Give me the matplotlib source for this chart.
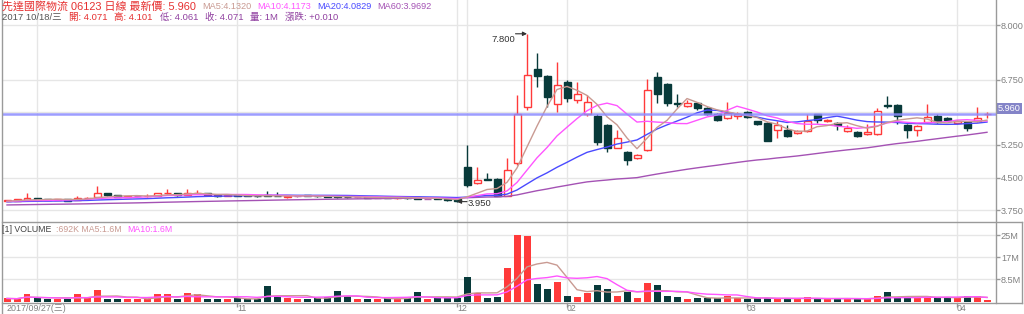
import matplotlib
matplotlib.use('Agg')
import matplotlib.pyplot as plt
import numpy as np
import pandas as pd
from matplotlib.patches import Rectangle
from matplotlib.lines import Line2D

# ---------------- data ----------------
month_start_idx = [0, 3, 23, 45, 46, 56, 74, 95]
tick_idx = [23, 45, 56, 74, 95]
tick_labels = ['11', '12', '02', '03', '04']
first_date_label = '2017/09/27(三)'

opens = [3.96, 3.97, 3.99,
         4.03, 4.01, 3.99, 4.01, 3.99, 4.03, 4.05, 4.14, 4.10, 4.06,
         4.071, 4.07, 4.08, 4.14, 4.14, 4.11, 4.14, 4.14, 4.10, 4.08,
         4.11, 4.10, 4.08, 4.10, 4.09, 4.06, 4.07, 4.10, 4.08, 4.07,
         4.07, 4.06, 4.05, 4.05, 4.04, 4.05, 4.03, 4.05, 4.05, 4.02,
         4.03, 4.02,
         4.00,
         4.74, 4.38, 4.46, 4.48, 4.09, 4.83, 6.12, 7.00, 6.83, 6.18,
         6.70, 6.28, 5.95, 5.91, 5.70, 5.19, 5.09, 4.94, 5.14, 6.81,
         6.64, 6.21, 6.14, 6.21, 6.10, 5.97, 5.86, 5.91,
         6.00, 5.79, 5.75, 5.60, 5.60, 5.52, 5.57, 5.95, 5.79, 5.76,
         5.56, 5.55, 5.49, 5.49, 6.17, 6.16, 5.70, 5.59, 5.78, 5.91,
         5.87,
         5.75, 5.78, 5.79, 5.95]
highs = [3.99, 4.01, 4.14,
         4.04, 4.02, 4.02, 4.02, 4.09, 4.05, 4.31, 4.15, 4.11, 4.08,
         4.101, 4.12, 4.15, 4.25, 4.15, 4.25, 4.22, 4.15, 4.11, 4.11,
         4.12, 4.11, 4.09, 4.19, 4.16, 4.08, 4.08, 4.11, 4.09, 4.08,
         4.08, 4.07, 4.06, 4.06, 4.05, 4.06, 4.06, 4.06, 4.06, 4.03,
         4.04, 4.03,
         4.01,
         5.24, 4.74, 4.60, 4.50, 4.94, 6.39, 7.80, 7.35, 6.85, 7.16,
         6.74, 6.70, 6.39, 5.95, 5.72, 5.60, 5.10, 5.05, 6.77, 6.93,
         6.66, 6.43, 6.28, 6.24, 6.12, 5.98, 6.24, 6.00,
         6.02, 5.80, 5.77, 5.79, 5.70, 5.60, 5.97, 5.97, 5.85, 5.78,
         5.70, 5.56, 5.72, 6.09, 6.37, 6.20, 5.72, 5.70, 6.20, 5.97,
         5.88,
         5.82, 5.80, 6.12, 6.00]
lows = [3.955, 3.96, 3.98,
        3.98, 3.98, 3.98, 3.96, 3.98, 4.02, 4.04, 4.09, 4.05, 4.05,
        4.061, 4.06, 4.07, 4.12, 4.09, 4.10, 4.12, 4.09, 4.06, 4.07,
        4.07, 4.07, 4.06, 4.08, 4.08, 4.04, 4.06, 4.07, 4.06, 4.05,
        4.04, 4.04, 4.04, 4.03, 4.03, 4.03, 4.02, 4.02, 4.01, 4.01,
        4.00, 3.97,
        3.95,
        4.28, 4.36, 4.44, 4.08, 4.07, 4.80, 6.05, 6.58, 6.12, 6.00,
        6.24, 6.22, 5.92, 5.24, 5.09, 5.17, 4.78, 4.93, 5.12, 6.21,
        6.14, 6.12, 6.12, 6.05, 5.93, 5.80, 5.85, 5.85,
        5.86, 5.70, 5.33, 5.42, 5.44, 5.50, 5.55, 5.76, 5.78, 5.60,
        5.55, 5.44, 5.47, 5.48, 6.10, 5.74, 5.42, 5.46, 5.76, 5.76,
        5.80,
        5.74, 5.58, 5.77, 5.87]
closes = [3.98, 4.00, 4.04,
          3.99, 3.99, 4.01, 3.97, 4.04, 4.04, 4.14, 4.10, 4.06, 4.07,
          4.071, 4.09, 4.14, 4.15, 4.10, 4.15, 4.15, 4.10, 4.08, 4.10,
          4.08, 4.08, 4.07, 4.09, 4.08, 4.08, 4.07, 4.08, 4.07, 4.06,
          4.05, 4.05, 4.05, 4.04, 4.04, 4.04, 4.05, 4.03, 4.02, 4.02,
          4.01, 3.98,
          3.96,
          4.32, 4.44, 4.44, 4.09, 4.67, 5.97, 6.85, 6.83, 6.34, 6.62,
          6.32, 6.41, 6.24, 5.32, 5.19, 5.40, 4.90, 5.01, 6.52, 6.43,
          6.21, 6.20, 6.21, 6.09, 5.95, 5.83, 5.98, 5.97,
          5.88, 5.74, 5.34, 5.70, 5.45, 5.57, 5.79, 5.83, 5.83, 5.70,
          5.65, 5.45, 5.55, 6.03, 6.14, 5.91, 5.60, 5.68, 5.89, 5.78,
          5.82,
          5.80, 5.65, 5.87, 5.96]
volumes_m = [1.2, 1.0, 3.0,
             1.2, 1.1, 1.0, 0.8, 3.0, 1.2, 4.3, 1.1, 1.1, 1.0,
             1.0, 1.0, 3.0, 3.0, 0.9, 3.2, 3.0, 1.0, 1.0, 0.9,
             1.5, 0.9, 0.8, 6.1, 1.9, 1.5, 1.0, 0.9, 1.3, 1.9,
             4.2, 2.1, 0.9, 0.8, 0.9, 1.3, 1.5, 1.5, 3.6, 0.9,
             1.5, 1.5,
             1.2,
             9.4, 3.2, 1.3, 1.7, 12.8, 25.6, 25.4, 6.9, 4.8, 7.5,
             2.0, 1.6, 3.3, 6.5, 4.8, 2.3, 3.8, 1.3, 7.2, 6.5,
             2.0, 1.7, 1.1, 1.3, 1.3, 1.2, 2.0, 1.2,
             1.0, 1.3, 1.5, 1.0, 1.1, 0.9, 1.6, 1.2, 0.9, 1.1,
             1.0, 1.3, 1.0, 2.0, 3.5, 1.2, 2.0, 1.2, 2.0, 1.5,
             1.3,
             1.5, 2.2, 2.3, 0.692]
# estimated closes of the sessions before the visible window (for moving averages)
hist_close = [3.80, 3.82, 3.81, 3.79, 3.80, 3.83, 3.84, 3.82, 3.81, 3.83,
              3.85, 3.84, 3.82, 3.80, 3.81, 3.83, 3.82, 3.84, 3.86, 3.85,
              3.83, 3.82, 3.84, 3.85, 3.83, 3.81, 3.82, 3.84, 3.86, 3.87,
              3.85, 3.84, 3.86, 3.88, 3.87, 3.85, 3.86, 3.88, 3.89, 3.90,
              3.91, 3.93, 3.92, 3.94, 3.95, 3.93, 3.92, 3.94, 3.96, 3.95,
              3.93, 3.94, 3.96, 3.97, 3.95, 3.94, 3.96, 3.97, 3.95]
price_ticks = [3.75, 4.5, 5.25, 6.0, 6.75, 8.0]
vol_ticks = [8.5, 17, 25.5]
vol_tick_labels = ['8.5M', '17M', '25M']
last_price = 5.960

# ---------------- style ----------------
W, H = 1024, 314
FONT = ['Liberation Sans', 'Noto Sans CJK TC', 'DejaVu Sans']
plt.rcParams['font.family'] = FONT
UP = '#ff3a3a'
DOWN = '#083a3a'
FLAT = '#b060b0'
C_MA5 = '#c99a92'
C_MA10 = '#ff55ff'
C_MA20 = '#4a4aff'
C_MA60 = '#a452b4'
GRID = '#e6e6e6'
AXC = '#9a9a9a'
LBL = '#808080'
RED_T = '#e63030'
PUR_T = '#9040a0'

fig = plt.figure(figsize=(W / 100, H / 100), dpi=100)
fig.patch.set_facecolor('white')


def fx(px):
    return px / W


def fy(py):
    return 1 - py / H


ax = fig.add_axes([fx(2), fy(221.5), fx(996) - fx(2), fy(0) - fy(221.5)])
axv = fig.add_axes([fx(2), fy(303), fx(996) - fx(2), fy(221.5) - fy(303)])

n = len(closes)
x = np.arange(n)
o = np.array(opens); h = np.array(highs); l = np.array(lows); c = np.array(closes)
v = np.array(volumes_m)

all_close = pd.Series(list(hist_close) + list(closes))
k = len(hist_close)
ma5 = all_close.rolling(5).mean().values[k:]
ma10 = all_close.rolling(10).mean().values[k:]
ma20 = all_close.rolling(20).mean().values[k:]
ma60 = all_close.rolling(60, min_periods=1).mean().values[k:]
vs = pd.Series(v)
vma5 = vs.rolling(5, min_periods=1).mean().values
vma10 = vs.rolling(10, min_periods=1).mean().values

XL = (-0.5, 98.9)
# ---------------- price panel ----------------
for a in (ax, axv):
    a.set_xlim(*XL)
    for s in a.spines.values():
        s.set_visible(False)
    a.set_facecolor('none')
    for mi in month_start_idx[1:]:
        a.axvline(mi, color=GRID, lw=1, zorder=0)

ax.set_ylim(3.494, 8.575)
for t in price_ticks:
    ax.axhline(t, color=GRID, lw=1, zorder=0)

bw = 0.7
for i in x:
    if c[i] > o[i]:
        col, face = UP, 'white'
    elif c[i] < o[i]:
        col, face = DOWN, DOWN
    else:
        col, face = FLAT, FLAT
    ax.vlines(i, l[i], h[i], color=col, lw=1, zorder=2)
    lo, hi = min(o[i], c[i]), max(o[i], c[i])
    if hi - lo < 0.006:
        ax.hlines(o[i], i - bw / 2, i + bw / 2, color=col, lw=1, zorder=3)
    else:
        ax.add_patch(Rectangle((i - bw / 2, lo), bw, hi - lo, facecolor=face,
                               edgecolor=col, lw=1, zorder=3))

ax.plot(x, ma60, color=C_MA60, lw=1, zorder=4)
ax.plot(x, ma20, color=C_MA20, lw=1, zorder=4)
ax.plot(x, ma10, color=C_MA10, lw=1, zorder=4)
ax.plot(x, ma5, color=C_MA5, lw=1, zorder=4)
ax.axhline(last_price, color='#8c8cff', lw=1.8, alpha=0.85, zorder=5)

ax.set_xticks([])
ax.yaxis.tick_right()
ax.set_yticks(price_ticks)
# the 6.000 label sits under the last-price box, so it is left blank
ax.set_yticklabels(['' if abs(t - 6.0) < 1e-9 else '%.3f' % t for t in price_ticks])
ax.tick_params(axis='y', direction='out', length=3, width=1, color=AXC,
               labelsize=6.6, labelcolor=LBL, pad=0.5)

imax = int(np.argmax(h)); imin = int(np.argmin(l))
ax.annotate('', xy=(imax, h[imax]), xytext=(imax - 1.15, h[imax]),
            arrowprops=dict(arrowstyle='-|>', color='#333333', lw=0.8,
                            mutation_scale=6, shrinkA=0, shrinkB=0), zorder=6)
ax.text(imax - 1.2, h[imax] - 0.02, '%.3f' % h[imax], ha='right', va='top',
        fontsize=6.8, color='#333333', zorder=6)
ax.annotate('', xy=(imin, l[imin]), xytext=(imin + 1.0, l[imin]),
            arrowprops=dict(arrowstyle='-|>', color='#333333', lw=0.8,
                            mutation_scale=6, shrinkA=0, shrinkB=0), zorder=6)
ax.text(imin + 1.05, l[imin] - 0.05, '%.3f' % l[imin], ha='left', va='center',
        fontsize=6.8, color='#333333', zorder=6)

# ---------------- volume panel ----------------
axv.set_ylim(-0.56, 30.86)
for t in vol_ticks:
    axv.axhline(t, color=GRID, lw=1, zorder=0)
vcol = [UP if c[i] >= o[i] else DOWN for i in x]
axv.bar(x, v, width=bw, color=vcol, zorder=2, linewidth=0)
axv.plot(x, vma5, color=C_MA5, lw=1, zorder=3)
axv.plot(x, vma10, color=C_MA10, lw=1, zorder=3)
axv.yaxis.tick_right()
axv.set_yticks(vol_ticks)
axv.set_yticklabels(vol_tick_labels)
axv.tick_params(axis='y', direction='out', length=3, width=1, color=AXC,
                labelsize=6.6, labelcolor=LBL, pad=0.5)
axv.set_xticks(tick_idx)
axv.set_xticklabels(tick_labels, ha='left')
axv.tick_params(axis='x', direction='out', length=3, width=1, color=AXC,
                labelsize=6.3, labelcolor=LBL, pad=-2.0)

# ---------------- frame lines ----------------
def fline(x0, y0, x1, y1, col=AXC, lw=1):
    fig.add_artist(Line2D([fx(x0), fx(x1)], [fy(y0), fy(y1)], color=col, lw=lw))

fline(2, 0, 2, 314)
fline(996, 0, 996, 303)
fline(2, 221.5, 1022, 221.5)
fline(2, 303, 1022, 303)
fline(1022, 221.5, 1022, 303)

# last price box
fig.add_artist(Rectangle((fx(996.5), fy(113.5)), fx(25), 10.5 / H, transform=fig.transFigure,
                         facecolor='#8484c8', edgecolor='none'))
fig.text(fx(1009), fy(108.2), '%.3f' % last_price, color='white', fontsize=6.6,
         ha='center', va='center')

# first date label
fig.text(fx(7), fy(308.5), first_date_label, color=LBL, fontsize=6.4, ha='left', va='center')

# ---------------- header texts ----------------
fig.canvas.draw()
rend = fig.canvas.get_renderer()


def put(xp, yp, s, col, size):
    return fig.text(fx(xp), fy(yp), s, color=col, fontsize=size, ha='left', va='center')


def chain(y, pieces, x0, gap):
    xx = x0
    for s, col, size in pieces:
        t = put(xx, y, s, col, size)
        xx += t.get_window_extent(rend).width + gap


chain(6.5, [('先達國際物流 06123 日線 最新價: %.3f' % last_price, RED_T, 7.9),
            ('MA5:4.1320', C_MA5, 6.6), ('MA10:4.1173', C_MA10, 6.6),
            ('MA20:4.0829', C_MA20, 6.6), ('MA60:3.9692', C_MA60, 6.6)], 2, 6)

chain(17.5, [('2017 10/18/三', '#555555', 6.8), ('開: 4.071', RED_T, 6.8),
             ('高: 4.101', RED_T, 6.8), ('低: 4.061', PUR_T, 6.8),
             ('收: 4.071', PUR_T, 6.8), ('量: 1M', PUR_T, 6.8),
             ('漲跌: +0.010', PUR_T, 6.8)], 2, 7)

chain(229, [('[1] VOLUME', '#444444', 6.3), (':692K MA5:1.6M', C_MA5, 6.3),
            ('MA10:1.6M', C_MA10, 6.3)], 2, 5)

fig.savefig('out.png', dpi=100, facecolor='white')
